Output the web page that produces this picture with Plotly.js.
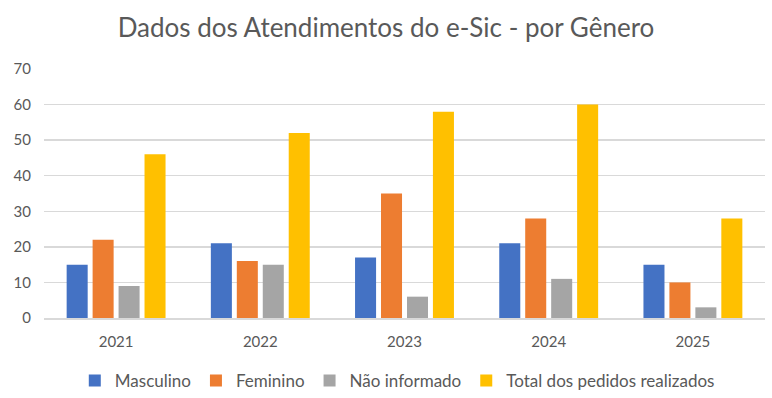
<!DOCTYPE html>
<html>
<head>
<meta charset="utf-8">
<script src="https://cdn.plot.ly/plotly-3.0.1.min.js"></script>
<style>
  html, body { margin: 0; padding: 0; background: #fff; }
  #chart { width: 772px; height: 398px; }
</style>
</head>
<body>
<div id="chart"></div>
<script>
var anos = ["2021", "2022", "2023", "2024", "2025"];
var masculino = [15, 21, 17, 21, 15];
var feminino = [22, 16, 35, 28, 10];
var naoInformado = [9, 15, 6, 11, 3];
var totalPedidos = [46, 52, 58, 60, 28];

(function() {
  "use strict";

  var fonte = "Lato, 'Open Sans', sans-serif";
  var cinza = "#595959";

  function serie(nome, valores, cor) {
    return {
      x: anos,
      y: valores,
      name: nome,
      type: "bar",
      marker: { color: cor },
      hoverinfo: "y+name"
    };
  }

  var data = [
    serie("Masculino", masculino, "#4472C4"),
    serie("Feminino", feminino, "#ED7D31"),
    serie("Não informado", naoInformado, "#A5A5A5"),
    serie("Total dos pedidos realizados", totalPedidos, "#FFC000")
  ];

  var layout = {
    width: 772,
    height: 398,
    margin: { l: 44, r: 7, t: 69, b: 80 },
    paper_bgcolor: "#fff",
    plot_bgcolor: "#fff",
    font: { family: fonte, color: cinza, size: 15 },
    title: {
      text: "Dados dos Atendimentos do e-Sic - por Gênero",
      font: { family: fonte, size: 26, color: cinza },
      x: 0.5,
      xanchor: "center",
      y: 0.93,
      yanchor: "middle"
    },
    barmode: "group",
    bargap: 0.28,
    bargroupgap: 0.19,
    xaxis: {
      type: "category",
      showgrid: false,
      showline: true,
      linecolor: "#d9d9d9",
      linewidth: 1.5,
      ticks: "",
      ticklabelstandoff: 9,
      tickfont: { size: 15, color: cinza }
    },
    yaxis: {
      range: [0, 70],
      dtick: 10,
      showgrid: true,
      gridcolor: "#d9d9d9",
      gridwidth: 1.5,
      zeroline: false,
      ticks: "",
      ticklabelstandoff: 12,
      tickfont: { size: 15, color: cinza },
      fixedrange: true
    },
    showlegend: true,
    legend: {
      orientation: "h",
      x: 0.49,
      xanchor: "center",
      yref: "container",
      y: 0.043,
      yanchor: "middle",
      font: { size: 17, color: cinza },
      itemwidth: 30,
      traceorder: "normal"
    }
  };

  Plotly.newPlot("chart", data, layout, { displayModeBar: false, staticPlot: true });
})();
</script>
</body>
</html>
